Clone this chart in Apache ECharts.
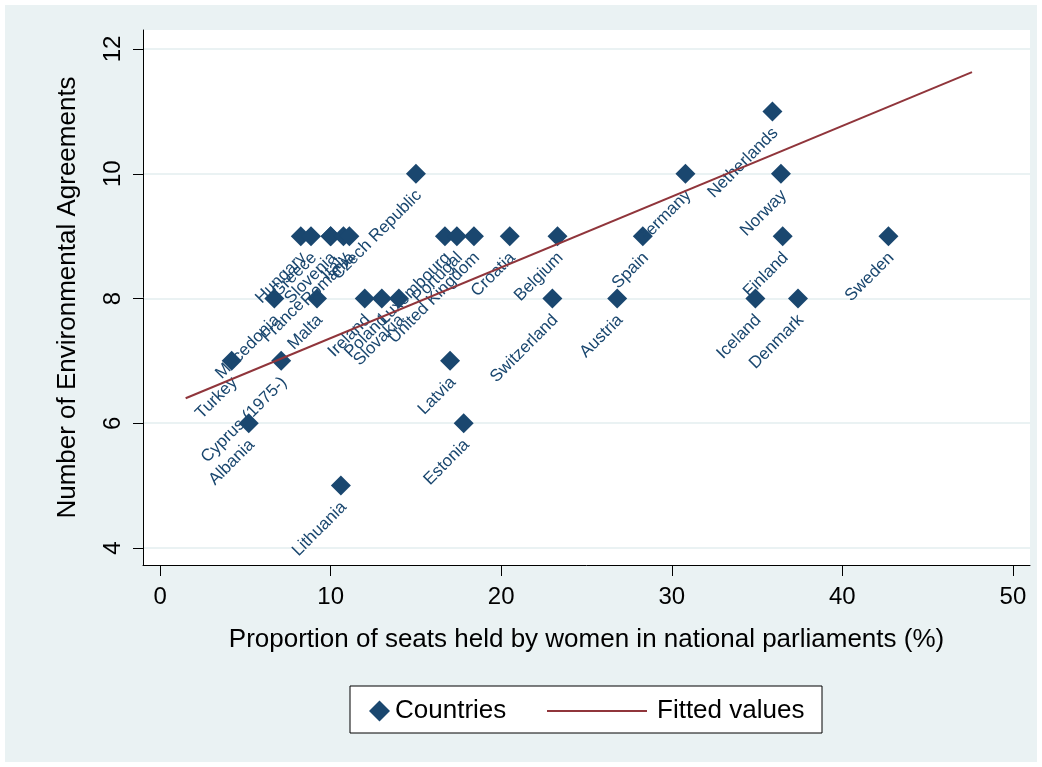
<!DOCTYPE html>
<html>
<head>
<meta charset="utf-8">
<script src="https://cdn.jsdelivr.net/npm/echarts@6/dist/echarts.min.js"></script>
<style>
  html, body { margin: 0; padding: 0; background: #fff; }
  #main { width: 1042px; height: 767px; }
</style>
</head>
<body>
<div id="main"></div>
<script>
// countries, share of seats held by women (%) and number of agreements
const countries = ['Turkey', 'Albania', 'Macedonia', 'Cyprus (1975-)', 'Hungary', 'Greece', 'Malta',
  'Slovenia', 'France', 'Italy', 'Romania', 'Lithuania', 'Ireland', 'Poland', 'Slovakia',
  'Czech Republic', 'Luxembourg', 'Latvia', 'Portugal', 'Estonia', 'United Kingdom', 'Croatia',
  'Switzerland', 'Belgium', 'Austria', 'Spain', 'Germany', 'Iceland', 'Netherlands', 'Norway',
  'Finland', 'Denmark', 'Sweden'];
const womenSeats = [4.2, 5.2, 6.7, 7.1, 8.25, 8.85, 9.2,
  10.0, 10.0, 10.75, 11.1, 10.6, 12.0, 13.0, 14.0,
  15.0, 16.7, 17.0, 17.4, 17.8, 18.4, 20.5,
  23.0, 23.3, 26.8, 28.3, 30.8, 34.9, 35.9, 36.4,
  36.5, 37.4, 42.7];
const agreements = [7, 6, 8, 7, 9, 9, 8,
  9, 9, 9, 9, 5, 8, 8, 8,
  10, 9, 7, 9, 6, 9, 9,
  8, 9, 8, 9, 10, 8, 11, 10,
  9, 8, 9];
// fitted line end points
const fitX = [1.5, 47.6];
const fitY = [6.40, 11.63];

const xTicks = [0, 10, 20, 30, 40, 50];
const yTicks = [4, 6, 8, 10, 12];

const FONT = 'Liberation Sans, Arial, sans-serif';
const NAVY = '#1a476f';
const MAROON = '#90353b';
const BG = '#eaf2f3';

// labels that sit away from their marker in the original
const labelNudge = { France: [-19, 76] };

const scatterData = countries.map((c, i) => {
  const item = { name: c, value: [womenSeats[i], agreements[i]] };
  if (labelNudge[c]) item.label = { position: labelNudge[c] };
  return item;
});

const option = {
  animation: false,
  backgroundColor: '#fff',
  graphic: [
    { type: 'rect', z: -10, shape: { x: 5, y: 5, width: 1032, height: 757 }, style: { fill: BG } },
    { type: 'rect', z: 10, shape: { x: 350, y: 686, width: 472, height: 47 },
      style: { fill: '#fff', stroke: '#000', lineWidth: 1 } }
  ],
  grid: {
    left: 143, right: 12, top: 30, bottom: 202,
    show: true, backgroundColor: '#fff', borderWidth: 0
  },
  legend: [
    {
      data: ['Countries'], left: 364, top: 693, z: 20,
      itemWidth: 21, itemHeight: 21,
      textStyle: { fontSize: 26, fontFamily: FONT, color: '#000', padding: [0, 0, 0, 0] }
    },
    {
      data: [{ name: 'Fitted values', icon: 'rect' }], left: 542, top: 693, z: 20,
      itemWidth: 100, itemHeight: 2,
      textStyle: { fontSize: 26, fontFamily: FONT, color: '#000', padding: [0, 0, 0, 5] }
    }
  ],
  xAxis: {
    type: 'value', min: -1, max: 51,
    name: 'Proportion of seats held by women in national parliaments (%)',
    nameLocation: 'middle', nameGap: 62,
    nameTextStyle: { fontSize: 26, fontFamily: FONT, color: '#000' },
    axisLine: { show: true, onZero: false, lineStyle: { color: '#000', width: 1 } },
    axisTick: { show: true, length: 11, customValues: xTicks, lineStyle: { color: '#000' } },
    axisLabel: { customValues: xTicks, fontSize: 24, fontFamily: FONT, color: '#000', margin: 20 },
    splitLine: { show: false }
  },
  yAxis: {
    type: 'value', min: 3.727, max: 12.305,
    name: 'Number of Environmental Agreements',
    nameLocation: 'middle', nameGap: 62,
    nameTextStyle: { fontSize: 26, fontFamily: FONT, color: '#000' },
    axisLine: { show: true, onZero: false, lineStyle: { color: '#000', width: 1 } },
    axisTick: { show: true, length: 10, customValues: yTicks, lineStyle: { color: '#000' } },
    axisLabel: { customValues: yTicks, rotate: 90, fontSize: 24, fontFamily: FONT, color: '#000', margin: 18 },
    splitLine: { show: true, lineStyle: { color: BG, width: 2 } }
  },
  series: [
    {
      name: 'Countries',
      type: 'scatter',
      symbol: 'diamond',
      symbolSize: 20,
      itemStyle: { color: NAVY, opacity: 1 },
      label: {
        show: true,
        formatter: '{b}',
        position: [13, 29],
        rotate: 45,
        align: 'right',
        verticalAlign: 'middle',
        fontSize: 17,
        fontFamily: FONT,
        color: NAVY
      },
      data: scatterData
    },
    {
      name: 'Fitted values',
      type: 'line',
      symbol: 'none',
      lineStyle: { color: MAROON, width: 2 },
      itemStyle: { color: MAROON },
      data: fitX.map((x, i) => [x, fitY[i]])
    }
  ]
};

const chart = echarts.init(document.getElementById('main'));
chart.setOption(option);
</script>
</body>
</html>
